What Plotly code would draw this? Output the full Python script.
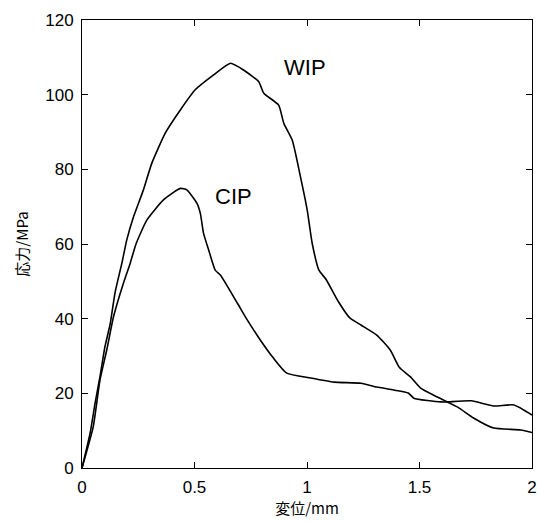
import plotly.graph_objects as go

# WIP curve (displacement mm, stress MPa)
wip_x = [0, 0.036, 0.058, 0.08, 0.102, 0.125, 0.147, 0.177, 0.199, 0.229, 0.273, 0.31,
         0.37, 0.437, 0.503, 0.585, 0.66, 0.718, 0.785, 0.808, 0.874, 0.897, 0.934,
         0.971, 1.001, 1.023, 1.053, 1.085, 1.135, 1.19, 1.24, 1.31, 1.37, 1.41, 1.46,
         1.505, 1.58, 1.67, 1.74, 1.83, 1.95, 2.0]
wip_y = [0, 9.3, 17.3, 24.5, 32.5, 38.5, 47.0, 54.8, 61.1, 67.3, 74.5, 81.6,
         89.7, 95.9, 101.3, 105.3, 108.4, 106.6, 103.5, 100.4, 97.2, 92.3, 87.9,
         78, 69.1, 60.2, 53, 50.5, 45, 40.2, 38.3, 35.6, 31.6, 27, 24.4,
         21.4, 19.0, 16.3, 13.4, 10.7, 10.2, 9.5]

# CIP curve
cip_x = [0, 0.05, 0.08, 0.11, 0.14, 0.184, 0.214, 0.24, 0.288, 0.362, 0.437, 0.466,
         0.511, 0.526, 0.54, 0.563, 0.592, 0.615, 0.69, 0.735, 0.79, 0.85, 0.91, 1.016,
         1.12, 1.24, 1.31, 1.385, 1.45, 1.475, 1.595, 1.62, 1.73, 1.83, 1.92, 2.0]
cip_y = [0, 11.1, 23.6, 31.6, 40.5, 49.5, 54.8, 60, 66.4, 71.8, 74.9, 74.5,
         70.9, 68.2, 62.9, 58.4, 53, 51.7, 44.2, 39.6, 34.5, 29.5, 25.4, 24.1,
         23.0, 22.7, 21.7, 20.9, 20.1, 18.7, 17.7, 17.7, 18.0, 16.6, 16.9, 14.2]

x_ticks = [0, 0.5, 1, 1.5, 2]
x_ticktext = ["0", "0.5", "1", "1.5", "2"]
y_ticks = [0, 20, 40, 60, 80, 100, 120]

num_font = "Liberation Sans, Arial, sans-serif"
jp_font = "Noto Sans CJK JP, sans-serif"

fig = go.Figure()
fig.add_trace(go.Scatter(x=wip_x, y=wip_y, mode="lines", name="WIP",
                         line=dict(color="black", width=1.6, shape="spline", smoothing=0.5)))
fig.add_trace(go.Scatter(x=cip_x, y=cip_y, mode="lines", name="CIP",
                         line=dict(color="black", width=1.6, shape="spline", smoothing=0.5)))

fig.add_annotation(x=0.993, y=107.2, text="WIP", showarrow=False,
                   font=dict(family=num_font, size=22, color="black"))
fig.add_annotation(x=0.673, y=72.6, text="CIP", showarrow=False,
                   font=dict(family=num_font, size=22, color="black"))

axis_common = dict(showline=True, linecolor="black", linewidth=1, mirror="ticks",
                   ticks="inside", ticklen=6, tickcolor="black", showgrid=False,
                   zeroline=False, automargin=False,
                   tickfont=dict(family=num_font, size=17, color="black"))

fig.update_xaxes(range=[0, 2], tickvals=x_ticks, ticktext=x_ticktext,
                 ticklabelstandoff=4,
                 title=dict(text="変位/mm", font=dict(family=jp_font, size=15, color="black"),
                            standoff=5),
                 **axis_common)
fig.update_yaxes(range=[0, 120], tickvals=y_ticks,
                 ticklabelstandoff=4,
                 title=dict(text="応力/MPa", font=dict(family=jp_font, size=15, color="black"),
                            standoff=12),
                 **axis_common)

fig.update_layout(width=537, height=522, showlegend=False, template="none",
                  plot_bgcolor="white", paper_bgcolor="white",
                  margin=dict(l=82, r=5, t=20, b=54))

# drop the default body margin so the figure sits at the page corner
fig.write_html("out.html", config={"displayModeBar": False},
               post_script="document.body.style.margin='0';")
